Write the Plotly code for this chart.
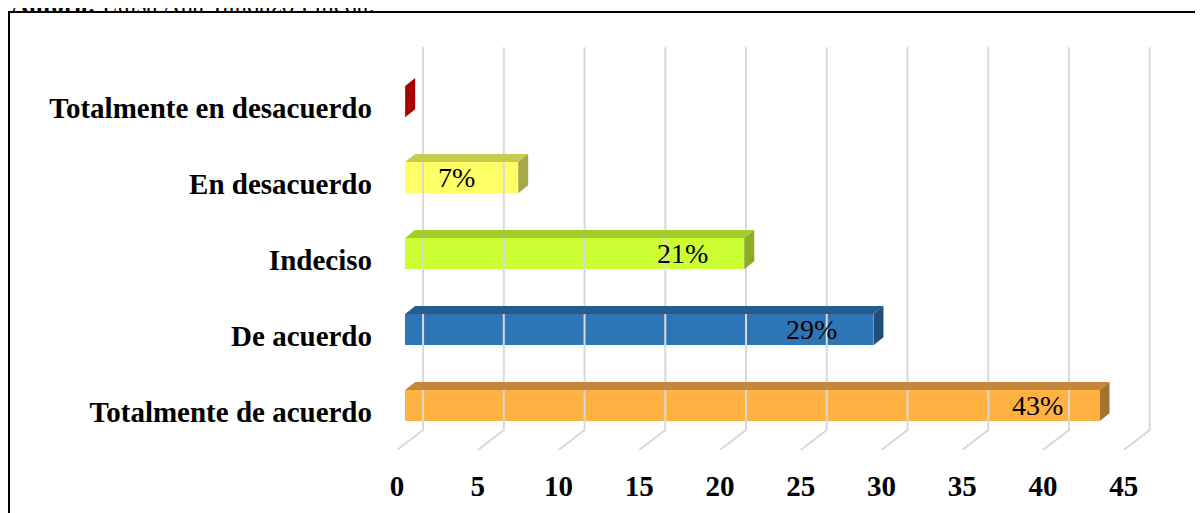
import plotly.graph_objects as go

# data, bottom to top as drawn
categories = [
    "Totalmente de acuerdo",
    "De acuerdo",
    "Indeciso",
    "En desacuerdo",
    "Totalmente en desacuerdo",
]
values = [43, 29, 21, 7, 0]
value_labels = ["43%", "29%", "21%", "7%", ""]
x_ticks = [0, 5, 10, 15, 20, 25, 30, 35, 40, 45]

front_colors = ["#FFB142", "#2E75B6", "#CCFF33", "#FFFF66", "#C00000"]
top_colors = ["#C4873A", "#245C8F", "#A3CC29", "#CACA52", "#9C0000"]
side_colors = ["#A4742E", "#1F4E79", "#8BAD22", "#A8A845", "#A80000"]

# fake 3D geometry (axis units)
BAR_BASE = 0.5      # front face of bars sits behind the front floor edge
BAR_W = 0.41
BAR_SHIFT = 0.085
DEPTH_X = 0.62
DEPTH_Y = 0.105
WALL_X = 1.61
FLOOR_Y0 = -0.5
FLOOR_Y1 = -0.237
WALL_TOP = 4.80

FONT = "Liberation Serif"

# page body has an 8px margin, compensate so the plot lands where it should
OFF = 8
PLOT_L, PLOT_W = 389, 767
PLOT_B, PLOT_H = 450, 405

fig = go.Figure()

# back wall gridlines + floor diagonals
gx, gy = [], []
for t in x_ticks:
    gx += [t, t + WALL_X, t + WALL_X, None]
    gy += [FLOOR_Y0, FLOOR_Y1, WALL_TOP, None]
fig.add_trace(
    go.Scatter(x=gx, y=gy, mode="lines", line=dict(color="#D9D9D9", width=2),
               hoverinfo="skip", showlegend=False)
)

ypos = [i + BAR_SHIFT for i in range(len(categories))]

# front faces
fig.add_trace(
    go.Bar(
        x=values,
        y=ypos,
        base=BAR_BASE,
        orientation="h",
        width=BAR_W,
        marker=dict(color=front_colors, line=dict(width=0)),
        showlegend=False,
    )
)

# top and side faces
for i, v in enumerate(values):
    x0 = BAR_BASE
    x1 = BAR_BASE + v
    yb = ypos[i] - BAR_W / 2
    yt = ypos[i] + BAR_W / 2
    if v > 0:
        fig.add_trace(
            go.Scatter(
                x=[x0, x1, x1 + DEPTH_X, x0 + DEPTH_X, x0],
                y=[yt, yt, yt + DEPTH_Y, yt + DEPTH_Y, yt],
                mode="lines", fill="toself", fillcolor=top_colors[i],
                line=dict(width=0), hoverinfo="skip", showlegend=False,
            )
        )
    fig.add_trace(
        go.Scatter(
            x=[x1, x1 + DEPTH_X, x1 + DEPTH_X, x1, x1],
            y=[yb, yb + DEPTH_Y, yt + DEPTH_Y, yt, yb],
            mode="lines", fill="toself", fillcolor=side_colors[i],
            line=dict(width=0), hoverinfo="skip", showlegend=False,
        )
    )

annotations = []
for i, (v, lab) in enumerate(zip(values, value_labels)):
    if lab:
        annotations.append(
            dict(
                x=BAR_BASE + v, y=ypos[i], xref="x", yref="y",
                text=lab, showarrow=False, xanchor="center", yanchor="middle",
                xshift=-62,
                font=dict(family=FONT, size=28, color="black"),
            )
        )

# source line above the frame (cut off at the top edge, as in the original)
annotations.append(
    dict(
        text="<b>Autora:</b> Luisa Ana Tandazo Pineda.",
        xref="paper", yref="paper",
        x=-(PLOT_L - OFF - 1) / PLOT_W, y=(PLOT_B - 20) / PLOT_H,
        xanchor="left", yanchor="bottom",
        showarrow=False,
        font=dict(family=FONT, size=25, color="black"),
    )
)

fig.update_layout(
    width=1203,
    height=513,
    margin=dict(l=PLOT_L - OFF, r=1203 - (PLOT_L + PLOT_W) + OFF,
                t=45 - OFF, b=513 - PLOT_B + OFF),
    plot_bgcolor="white",
    paper_bgcolor="white",
    font=dict(family=FONT, size=24, color="black"),
    xaxis=dict(
        range=[-0.5, 47],
        tickvals=x_ticks,
        ticktext=[f"<b>{t}</b>" for t in x_ticks],
        showgrid=False,
        zeroline=False,
        showline=False,
        ticks="",
        ticklabelstandoff=16,
        tickfont=dict(family=FONT, size=29, color="black"),
    ),
    yaxis=dict(
        range=[-0.5, 4.83],
        tickvals=list(range(len(categories))),
        ticktext=[f"<b>{c}</b>" for c in categories],
        showgrid=False,
        zeroline=False,
        showline=False,
        ticks="",
        ticklabelstandoff=16,
        tickfont=dict(family=FONT, size=29, color="black"),
    ),
    bargap=0,
    annotations=annotations,
    shapes=[
        dict(
            type="rect", xref="paper", yref="paper",
            x0=(9 - PLOT_L) / PLOT_W, x1=1.2,
            y0=-0.5, y1=(PLOT_B - 12) / PLOT_H,
            line=dict(color="black", width=2),
            fillcolor="rgba(0,0,0,0)",
            layer="below",
        )
    ],
)

fig.write_html("out.html")
